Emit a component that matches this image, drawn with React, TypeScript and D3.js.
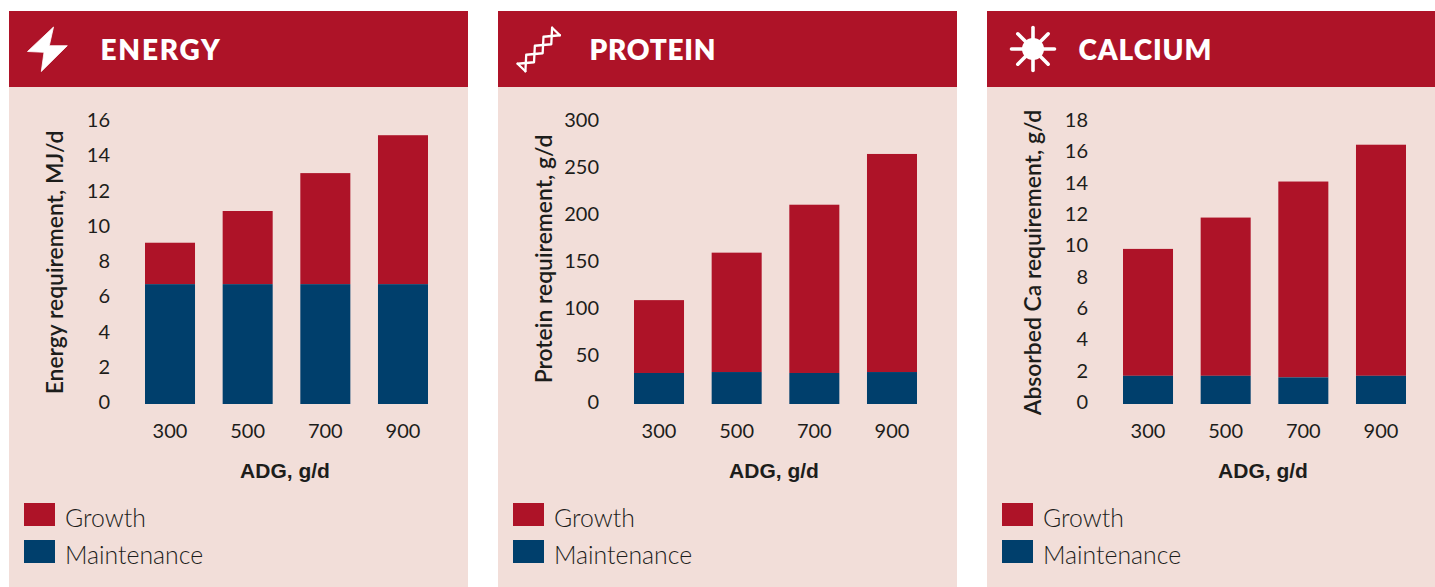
import React from "react";
import * as d3 from "d3";

const categories = ["300", "500", "700", "900"];
const energyGrowthTop = [9.15, 10.95, 13.1, 15.25];
const energyMaintenance = [6.8, 6.8, 6.8, 6.8];
const energyTicks = [0, 2, 4, 6, 8, 10, 12, 14, 16];
const proteinGrowthTop = [110.5, 161, 212, 266];
const proteinMaintenance = [33, 34, 33, 34];
const proteinTicks = [0, 50, 100, 150, 200, 250, 300];
const calciumGrowthTop = [9.9, 11.9, 14.2, 16.55];
const calciumMaintenance = [1.8, 1.8, 1.7, 1.8];
const calciumTicks = [0, 2, 4, 6, 8, 10, 12, 14, 16, 18];
const legendLabels = ["Growth", "Maintenance"];

const RED = "#ae1328";
const BLUE = "#003f6c";
const BG = "#f2ded9";
const INK = "#1d1d1b";
const TICK_FONT = "Lato, sans-serif";

const PW = 459;
const BASE = 404 - 11;
const TOP = 122 - 11;

function Bolt() {
  const p = [[53.5, 27], [27.5, 51.5], [44, 52.3], [41.3, 71.5], [67.3, 45.7], [49.3, 45.7]];
  return <path d={d3.line()(p as [number, number][]) + "Z"} transform="translate(-9,-11)" fill="#fff" stroke="#fff" strokeWidth={0.8} strokeLinejoin="round" />;
}

function Dna() {
  const ax = 521.5, ay = 67.5, bx = 556, by = 31.5;
  const n = 4;
  const nx = -(by - ay), ny = bx - ax;
  const len = Math.hypot(nx, ny);
  const amp = 5.4;
  const a: [number, number][] = [];
  const b: [number, number][] = [];
  for (let i = 0; i <= n; i++) {
    const t = i / n;
    const s = i % 2 === 0 ? 1 : -1;
    const cx = ax + (bx - ax) * t, cy = ay + (by - ay) * t;
    a.push([cx + (s * amp * nx) / len, cy + (s * amp * ny) / len]);
    b.push([cx - (s * amp * nx) / len, cy - (s * amp * ny) / len]);
  }
  const line = d3.line();
  return (
    <g transform="translate(-498,-11)" fill="none" stroke="#fff" strokeWidth={2.3} strokeLinejoin="round" strokeLinecap="round">
      <path d={line(a) as string} />
      <path d={line(b) as string} />
      <path d={line([a[0], b[0]]) as string} />
      <path d={line([a[n], b[n]]) as string} />
    </g>
  );
}

function Sun() {
  const cx = 1033 - 987, cy = 49 - 11;
  const rays = d3.range(8).map((i) => (i * Math.PI) / 4);
  return (
    <g stroke="#fff" fill="#fff" strokeWidth={3.6} strokeLinecap="round">
      <circle cx={cx} cy={cy} r={11} stroke="none" />
      {rays.map((r, i) => (
        <line key={i} x1={cx} y1={cy} x2={cx + Math.cos(r) * 21.5} y2={cy + Math.sin(r) * 21.5} />
      ))}
    </g>
  );
}

type PanelProps = {
  x: number;
  title: string;
  titleSpacing: number;
  icon: React.ReactNode;
  yTitle: string;
  yTitleCenter: number;
  growth: number[];
  maintenance: number[];
  ticks: number[];
};

function Panel({ x, title, titleSpacing, icon, yTitle, yTitleCenter, growth, maintenance, ticks }: PanelProps) {
  const xs = d3.scaleBand<string>().domain(categories).range([136, 419]).paddingInner(0.356).paddingOuter(0);
  const ys = d3.scaleLinear().domain([0, ticks[ticks.length - 1]]).range([BASE, TOP]);
  return (
    <g transform={`translate(${x},11)`}>
      <rect width={PW} height={576} fill={BG} />
      <rect width={PW} height={76} fill={RED} />
      {icon}
      <text x={91.5} y={49} fill="#fff" fontFamily="Lato, sans-serif" fontWeight={800} fontSize={28} letterSpacing={titleSpacing}>{title}</text>
      {categories.map((c, i) => (
        <g key={c}>
          <rect x={xs(c)} width={xs.bandwidth()} y={ys(growth[i])} height={ys(maintenance[i]) - ys(growth[i])} fill={RED} />
          <rect x={xs(c)} width={xs.bandwidth()} y={ys(maintenance[i])} height={BASE - ys(maintenance[i])} fill={BLUE} />
          <text x={(xs(c) as number) + xs.bandwidth() / 2} y={426.5} textAnchor="middle" fontFamily={TICK_FONT} fontSize={20} fill={INK}>{c}</text>
        </g>
      ))}
      {ticks.map((t) => (
        <text key={t} x={101} y={ys(t) + 5} textAnchor="end" fontFamily={TICK_FONT} fontSize={20} fill={INK}>{t}</text>
      ))}
      <text transform={`translate(46.5,${yTitleCenter}) rotate(-90)`} x={0} y={7} textAnchor="middle" fontFamily="Lato, sans-serif" fontWeight={600} fontSize={22.9} fill={INK}>{yTitle}</text>
      <text x={276} y={467} textAnchor="middle" fontFamily="Liberation Sans, sans-serif" fontWeight={700} fontSize={21} fill={INK}>ADG, g/d</text>
      {legendLabels.map((l, i) => (
        <g key={l}>
          <rect x={15} y={492 + i * 37} width={31} height={23} fill={i === 0 ? RED : BLUE} />
          <text x={56} y={515.5 + i * 37} fontFamily="Lato, sans-serif" fontWeight={300} fontSize={24.8} fill={INK}>{l}</text>
        </g>
      ))}
    </g>
  );
}

export default function App() {
  return (
    <svg width={1435} height={587} style={{ position: "absolute", left: 0, top: 0, background: "#fff" }}>
      <Panel x={9} title="ENERGY" titleSpacing={1.8} icon={<Bolt />} yTitle="Energy requirement, MJ/d" yTitleCenter={251.5} growth={energyGrowthTop} maintenance={energyMaintenance} ticks={energyTicks} />
      <Panel x={498} title="PROTEIN" titleSpacing={0.7} icon={<Dna />} yTitle="Protein requirement, g/d" yTitleCenter={248} growth={proteinGrowthTop} maintenance={proteinMaintenance} ticks={proteinTicks} />
      <Panel x={987} title="CALCIUM" titleSpacing={0.9} icon={<Sun />} yTitle="Absorbed Ca requirement, g/d" yTitleCenter={251.5} growth={calciumGrowthTop} maintenance={calciumMaintenance} ticks={calciumTicks} />
    </svg>
  );
}
